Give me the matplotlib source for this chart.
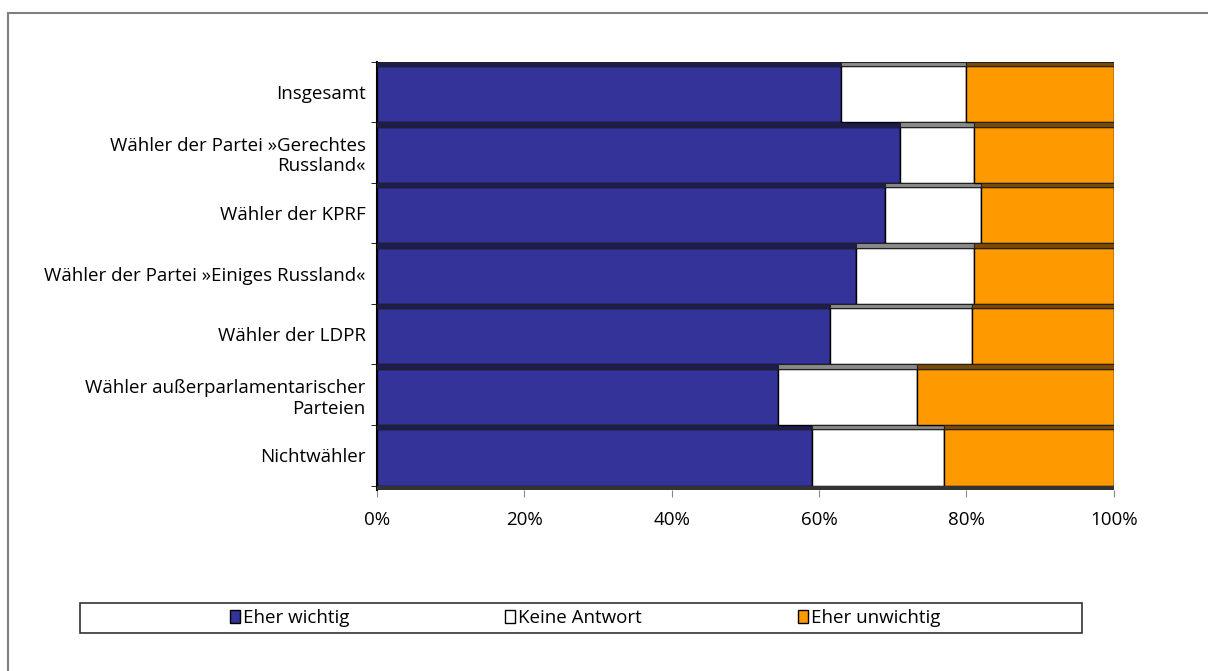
import numpy as np
import matplotlib.pyplot as plt
from matplotlib.patches import Rectangle

plt.rcParams['font.family'] = ['Open Sans', 'DejaVu Sans']

# Share of respondents per group (%)
categories = [
    "Insgesamt",
    "Wähler der Partei »Gerechtes\nRussland«",
    "Wähler der KPRF",
    "Wähler der Partei »Einiges Russland«",
    "Wähler der LDPR",
    "Wähler außerparlamentarischer\nParteien",
    "Nichtwähler",
]
eher_wichtig = [63, 71, 69, 65, 61.5, 54.5, 59]
keine_antwort = [17, 10, 13, 16, 19.3, 18.8, 18]
eher_unwichtig = [20, 19, 18, 19, 19.2, 26.7, 23]

series = [
    ("Eher wichtig", eher_wichtig, "#333399", "#1c1c55"),
    ("Keine Antwort", keine_antwort, "#ffffff", "#8a8a8a"),
    ("Eher unwichtig", eher_unwichtig, "#ff9900", "#7a4a00"),
]

fig = plt.figure(figsize=(12.08, 6.71), dpi=100)
ax = fig.add_axes([0.312, 0.270, 0.610, 0.638])

y = np.arange(len(categories))
depth = 0.07  # pseudo-3D top strip
left = np.zeros(len(categories))
for name, vals, color, dark in series:
    vals = np.array(vals, dtype=float)
    # body of the bar
    ax.barh(y + depth / 2, vals, left=left, height=1 - depth, color=color,
            edgecolor="black", linewidth=1.0, label=name, zorder=3)
    # darker top face
    ax.barh(y - 0.5 + depth / 2, vals, left=left, height=depth, color=dark,
            edgecolor="#222222", linewidth=0.8, zorder=3)
    left += vals

ax.set_xlim(0, 100)
ax.set_ylim(6.5 + depth, -0.5)
ax.axhline(6.5 + depth / 2, color="#333333", linewidth=3, zorder=4)

ax.set_yticks(y)
ax.set_yticklabels(categories, fontsize=13.5)
ax.set_yticks(np.arange(-0.5, len(categories) + 0.5, 1), minor=True)
ax.tick_params(axis="y", which="major", length=0, pad=8)
ax.tick_params(axis="y", which="minor", length=4, color="black")

ax.set_xticks([0, 20, 40, 60, 80, 100])
ax.set_xticklabels(["0%", "20%", "40%", "60%", "80%", "100%"], fontsize=13.5)
ax.tick_params(axis="x", length=5, color="#888888", pad=10)

for s in ["top", "right", "bottom"]:
    ax.spines[s].set_visible(False)
ax.spines["left"].set_color("black")
ax.spines["left"].set_linewidth(1.5)

# Outer frame
fig.patches.append(Rectangle((8 / 1208, -0.05), 1.1, 1 - 13 / 671 + 0.05,
                             transform=fig.transFigure, fill=False,
                             edgecolor="#808080", linewidth=1.5))

# Legend box
fig.patches.append(Rectangle((80 / 1208, 1 - 633 / 671), 1002 / 1208, 30 / 671,
                             transform=fig.transFigure, fill=False,
                             edgecolor="#333333", linewidth=1.2))
handles, labels = ax.get_legend_handles_labels()
fig.legend(handles, labels, loc="center", bbox_to_anchor=(585 / 1208, 1 - 618 / 671),
           ncol=3, frameon=False, fontsize=13.5, handlelength=0.55, handleheight=0.7,
           handletextpad=0.15, columnspacing=8.3)

fig.savefig("out.png", dpi=100)
